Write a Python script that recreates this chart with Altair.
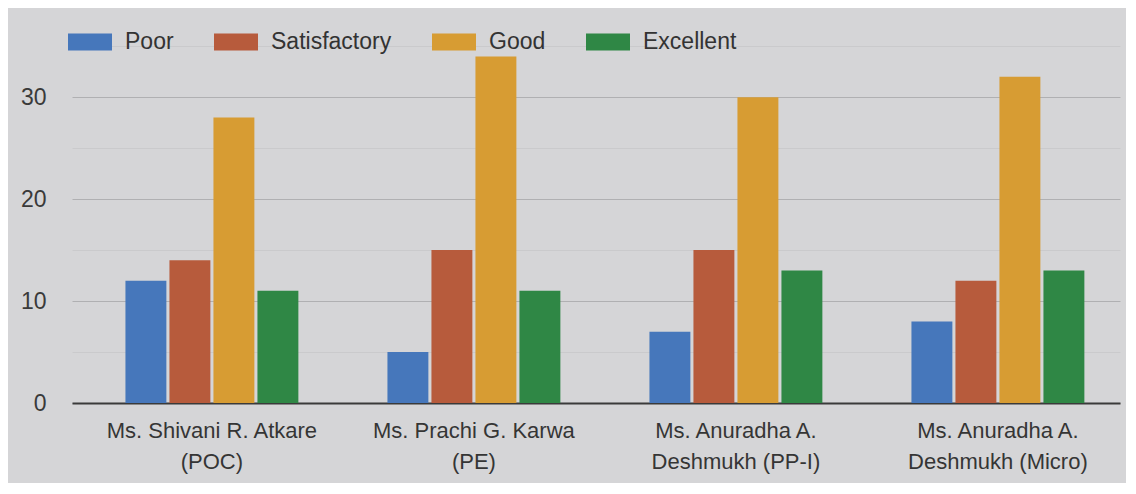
import altair as alt
import pandas as pd

categories = [
    "Ms. Shivani R. Atkare\n(POC)",
    "Ms. Prachi G. Karwa\n(PE)",
    "Ms. Anuradha A.\nDeshmukh (PP-I)",
    "Ms. Anuradha A.\nDeshmukh (Micro)",
]
ratings = ["Poor", "Satisfactory", "Good", "Excellent"]
poor = [12, 5, 7, 8]
satisfactory = [14, 15, 15, 12]
good = [28, 34, 30, 32]
excellent = [11, 11, 13, 13]
colors = ["#4677bb", "#b75b3c", "#d79c33", "#2f8745"]
tick_values = [0, 5, 10, 15, 20, 25, 30, 35]

rows = []
for series, vals in zip(ratings, [poor, satisfactory, good, excellent]):
    for c, v in zip(categories, vals):
        rows.append({"teacher": c, "rating": series, "count": v})
df = pd.DataFrame(rows)

chart = alt.Chart(df).mark_bar().encode(
    x=alt.X(
        "teacher:N",
        sort=categories,
        scale=alt.Scale(paddingInner=0.34, paddingOuter=0.17, align=0.6),
        axis=alt.Axis(
            title=None,
            labelExpr="split(datum.label, '\\n')",
            labelAngle=0,
            labelFontSize=22,
            labelLineHeight=31,
            labelPadding=17,
            labelLimit=0,
            labelColor="#353535",
            domain=True,
            domainColor="#3a3a3a",
            domainWidth=2,
            ticks=False,
            grid=False,
        ),
    ),
    xOffset=alt.XOffset("rating:N", sort=ratings, scale=alt.Scale(paddingInner=0.07)),
    y=alt.Y(
        "count:Q",
        scale=alt.Scale(domain=[0, 36], nice=False),
        axis=alt.Axis(
            title=None,
            values=tick_values,
            labelExpr="datum.value % 10 == 0 ? datum.label : ''",
            labelFontSize=23,
            labelPadding=26,
            labelColor="#3a3a3a",
            grid=True,
            gridColor=alt.condition("datum.value % 10 != 0", alt.value("#cacacc"), alt.value("#b0b0b2")),
            domain=False,
            ticks=False,
        ),
    ),
    color=alt.Color(
        "rating:N",
        sort=ratings,
        scale=alt.Scale(domain=ratings, range=colors),
        legend=alt.Legend(
            title=None,
            orient="none",
            legendX=-4,
            legendY=-16,
            direction="horizontal",
            symbolType="M-1,-0.39L1,-0.39L1,0.39L-1,0.39Z",
            symbolSize=1936,
            symbolStrokeWidth=0,
            symbolOpacity=1,
            labelFontSize=23,
            labelColor="#333333",
            labelOffset=13,
            columnPadding=40,
            padding=0,
        ),
    ),
).properties(
    width=1048,
    height=367,
    autosize=alt.AutoSizeParams(type="none"),
    padding={"left": 64, "top": 28, "right": 6, "bottom": 80},
).configure(
    background="#d5d5d7",
    font="Liberation Sans",
).configure_view(stroke=None)

chart.save("out.html", embed_options={"renderer": "svg", "actions": False})
